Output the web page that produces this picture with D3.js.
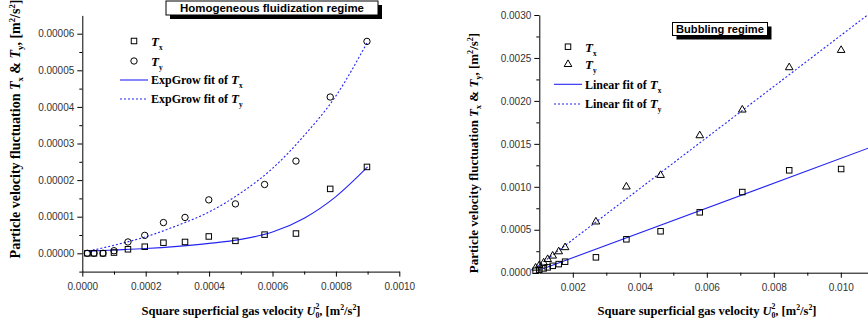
<!DOCTYPE html>
<html>
<head>
<meta charset="utf-8">
<script src="https://cdn.jsdelivr.net/npm/d3@7"></script>
<style>
  html, body { margin: 0; padding: 0; background: #fff; }
  svg { display: block; }
  .tick text { font-family: "Liberation Sans", Arial, sans-serif; fill: #333; }
</style>
</head>
<body>
<svg id="chart" width="868" height="325"></svg>
<script>
// ---------- Left panel: homogeneous fluidization regime ----------
const leftU2 = [0.0000159, 0.0000369, 0.0000653, 0.0001, 0.000144, 0.000197, 0.000256, 0.000324, 0.000399, 0.000483, 0.000575, 0.000674, 0.000782, 0.000898];
const leftTx = [0.0000000, 0.0000000, 0.0000000, 0.0000002, 0.0000011, 0.0000018, 0.0000029, 0.0000031, 0.0000046, 0.0000034, 0.0000051, 0.0000054, 0.0000176, 0.0000236];
const leftTy = [0.0000000, 0.0000000, 0.0000000, 0.0000007, 0.0000031, 0.0000049, 0.0000084, 0.0000098, 0.0000146, 0.0000135, 0.0000188, 0.0000252, 0.0000427, 0.0000579];
// ExpGrow fit curves
const leftFitU2 = [0.00002, 0.0001, 0.0002, 0.0003, 0.0004, 0.0005, 0.0006, 0.0007, 0.0008, 0.0009];
const leftFitTx = [0.0000006, 0.0000009, 0.0000013, 0.0000019, 0.0000027, 0.0000038, 0.0000058, 0.0000096, 0.0000155, 0.0000236];
const leftFitTy = [0.0000006, 0.0000022, 0.0000045, 0.0000076, 0.0000113, 0.0000165, 0.0000232, 0.0000322, 0.0000430, 0.0000578];
const leftYMajor = [0, 0.00001, 0.00002, 0.00003, 0.00004, 0.00005, 0.00006];
const leftYMinor = [-0.000005, 0.000005, 0.000015, 0.000025, 0.000035, 0.000045, 0.000055];
const leftXMajor = [0, 0.0002, 0.0004, 0.0006, 0.0008, 0.0010];
const leftXMinor = [0.0001, 0.0003, 0.0005, 0.0007, 0.0009];

// ---------- Right panel: bubbling regime ----------
const rightU2 = [0.00089, 0.00100, 0.00113, 0.00125, 0.00140, 0.00158, 0.00177, 0.00269, 0.00360, 0.00462, 0.00579, 0.00706, 0.00846, 0.01001];
const rightTx = [0.000023, 0.000035, 0.000050, 0.000062, 0.000080, 0.000100, 0.000128, 0.000179, 0.000389, 0.000482, 0.000703, 0.000939, 0.001192, 0.001207];
const rightTy = [0.000050, 0.000080, 0.000110, 0.000150, 0.000190, 0.000240, 0.000288, 0.000587, 0.000994, 0.001129, 0.001591, 0.001890, 0.002383, 0.002584];
// Linear fit lines (end points)
const rightFitTxU2 = [0.00107, 0.011];
const rightFitTx = [0.00004, 0.001476];
const rightFitTyU2 = [0.00094, 0.0108];
const rightFitTy = [0.00007, 0.0030];
const rightYMajor = [0, 0.0005, 0.0010, 0.0015, 0.0020, 0.0025, 0.0030];
const rightYMinor = [0.00025, 0.00075, 0.00125, 0.00175, 0.00225, 0.00275];
const rightXMajor = [0.002, 0.004, 0.006, 0.008, 0.010];
const rightXMinor = [0.003, 0.005, 0.007, 0.009];

const svg = d3.select("#chart");
const BLUE = "#2424f4";
const SERIF = '"Liberation Serif", "Times New Roman", serif';
const SANS = '"Liberation Sans", Arial, sans-serif';

function drawAxes(g, x, y, yMaj, yMin, yFmt, xMaj, xMin, xFmt, fs) {
  g.append("g").attr("transform", `translate(${x.range()[0]},0)`)
    .call(d3.axisLeft(y).tickValues(yMaj).tickFormat(d3.format(yFmt)).tickSize(5).tickSizeOuter(0).tickPadding(3));
  g.append("g").attr("transform", `translate(${x.range()[0]},0)`)
    .call(d3.axisLeft(y).tickValues(yMin).tickFormat("").tickSize(3).tickSizeOuter(0))
    .select(".domain").remove();
  g.append("g").attr("transform", `translate(0,${y.range()[0]})`)
    .call(d3.axisBottom(x).tickValues(xMaj).tickFormat(d3.format(xFmt)).tickSize(5).tickSizeOuter(0).tickPadding(6));
  g.append("g").attr("transform", `translate(0,${y.range()[0]})`)
    .call(d3.axisBottom(x).tickValues(xMin).tickFormat("").tickSize(3).tickSizeOuter(0))
    .select(".domain").remove();
  g.selectAll(".tick text").attr("font-size", fs).attr("font-family", SANS).attr("fill", "#333");
  g.selectAll(".domain, .tick line").attr("stroke", "#000").attr("stroke-width", 1);
}

function yTitle(g, cx, cy, fs) {
  const t = g.append("text").attr("transform", `translate(${cx},${cy}) rotate(-90)`)
    .attr("text-anchor", "middle").attr("font-family", SERIF).attr("font-weight", "bold").attr("font-size", fs);
  t.append("tspan").text("Particle velocity fluctuation ");
  t.append("tspan").attr("font-style", "italic").text("T");
  t.append("tspan").attr("font-size", fs * 0.62).attr("dy", 3).text("x");
  t.append("tspan").attr("dy", -3).text(" & ");
  t.append("tspan").attr("font-style", "italic").text("T");
  t.append("tspan").attr("font-size", fs * 0.62).attr("dy", 3).text("y");
  t.append("tspan").attr("dy", -3).text(", [m");
  t.append("tspan").attr("font-size", fs * 0.62).attr("dy", -5).text("2");
  t.append("tspan").attr("dy", 5).text("/s");
  t.append("tspan").attr("font-size", fs * 0.62).attr("dy", -5).text("2");
  t.append("tspan").attr("dy", 5).text("]");
}

function xTitle(g, cx, cy, fs) {
  const t = g.append("text").attr("x", cx).attr("y", cy)
    .attr("text-anchor", "middle").attr("font-family", SERIF).attr("font-weight", "bold").attr("font-size", fs);
  t.append("tspan").text("Square superficial gas velocity ");
  t.append("tspan").attr("font-style", "italic").text("U");
  t.append("tspan").attr("font-size", fs * 0.62).attr("dy", 3).text("0");
  t.append("tspan").attr("font-size", fs * 0.62).attr("dy", -9).attr("dx", -4).text("2");
  t.append("tspan").attr("dy", 6).text(", [m");
  t.append("tspan").attr("font-size", fs * 0.62).attr("dy", -5).text("2");
  t.append("tspan").attr("dy", 5).text("/s");
  t.append("tspan").attr("font-size", fs * 0.62).attr("dy", -5).text("2");
  t.append("tspan").attr("dy", 5).text("]");
}

function titleBox(g, x, y, w, h, label, fs, tl) {
  g.append("rect").attr("x", x + 4).attr("y", y + 4).attr("width", w).attr("height", h).attr("fill", "#000");
  g.append("rect").attr("x", x).attr("y", y).attr("width", w).attr("height", h).attr("fill", "#fff").attr("stroke", "#000").attr("stroke-width", 1);
  g.append("text").attr("x", x + w / 2).attr("y", y + h / 2 + fs * 0.36).attr("text-anchor", "middle")
    .attr("font-family", SANS).attr("font-weight", "bold").attr("font-size", fs)
    .attr("textLength", tl).attr("lengthAdjust", "spacingAndGlyphs").text(label);
}

function square(g, cx, cy, s) {
  g.append("rect").attr("x", cx - s / 2).attr("y", cy - s / 2).attr("width", s).attr("height", s)
    .attr("fill", "none").attr("stroke", "#000").attr("stroke-width", 1);
}
function circle(g, cx, cy, r) {
  g.append("circle").attr("cx", cx).attr("cy", cy).attr("r", r).attr("fill", "none").attr("stroke", "#000").attr("stroke-width", 1);
}
function triangle(g, cx, cy, s) {
  const p = d3.symbol().type(d3.symbolTriangle).size(s * s * 0.45)();
  g.append("path").attr("d", p).attr("transform", `translate(${cx},${cy})`)
    .attr("fill", "none").attr("stroke", "#000").attr("stroke-width", 1);
}

function legendText(g, x, y, pre, sub, fs) {
  const t = g.append("text").attr("x", x).attr("y", y).attr("font-family", SERIF).attr("font-weight", "bold").attr("font-size", fs);
  if (pre) t.append("tspan").text(pre);
  t.append("tspan").attr("font-style", "italic").attr("font-size", fs + 1).text("T");
  t.append("tspan").attr("font-size", fs * 0.6).attr("dy", 4).text(sub);
}

// ===== Left panel =====
{
  const g = svg.append("g");
  const x = d3.scaleLinear().domain([0, 0.001]).range([82.3, 399.3]);
  const y = d3.scaleLinear().domain([-0.000005, 0.000065]).range([271.6, 15.4]);
  drawAxes(g, x, y, leftYMajor, leftYMinor, ".5f", leftXMajor, leftXMinor, ".4f", 10);

  const line = d3.line().x((d, i) => x(leftFitU2[i])).y(d => y(d)).curve(d3.curveMonotoneX);
  g.append("path").attr("d", line(leftFitTx)).attr("fill", "none").attr("stroke", BLUE).attr("stroke-width", 1.1);
  g.append("path").attr("d", line(leftFitTy)).attr("fill", "none").attr("stroke", BLUE).attr("stroke-width", 1.1).attr("stroke-dasharray", "2,2");

  leftU2.forEach((u, i) => square(g, x(u), y(leftTx[i]), 5.5));
  leftU2.forEach((u, i) => circle(g, x(u), y(leftTy[i]), 3.2));

  // legend
  square(g, 134, 41, 5.5);
  legendText(g, 151, 46, "", "x", 12);
  circle(g, 134, 61, 3.2);
  legendText(g, 151, 66, "", "y", 12);
  g.append("line").attr("x1", 120).attr("x2", 148).attr("y1", 80).attr("y2", 80).attr("stroke", BLUE).attr("stroke-width", 1.1);
  legendText(g, 151, 84, "ExpGrow fit of ", "x", 12);
  g.append("line").attr("x1", 120).attr("x2", 148).attr("y1", 99).attr("y2", 99).attr("stroke", BLUE).attr("stroke-width", 1.1).attr("stroke-dasharray", "2,2");
  legendText(g, 151, 103, "ExpGrow fit of ", "y", 12);

  yTitle(g, 20, 129, 14);
  xTitle(g, 251, 315, 12.5);
  titleBox(g, 166, 1, 212, 14, "Homogeneous fluidization regime", 11.5, 184);
}

// ===== Right panel =====
{
  const g = svg.append("g");
  const x = d3.scaleLinear().domain([0.001, 0.011]).range([539.3, 874.3]);
  const y = d3.scaleLinear().domain([0, 0.003]).range([272.7, 15]);
  drawAxes(g, x, y, rightYMajor, rightYMinor, ".4f", rightXMajor, rightXMinor, ".3f", 10);

  const lineTx = d3.line().x((d, i) => x(rightFitTxU2[i])).y(d => y(d));
  const lineTy = d3.line().x((d, i) => x(rightFitTyU2[i])).y(d => y(d));
  g.append("path").attr("d", lineTx(rightFitTx)).attr("fill", "none").attr("stroke", BLUE).attr("stroke-width", 1.1);
  g.append("path").attr("d", lineTy(rightFitTy)).attr("fill", "none").attr("stroke", BLUE).attr("stroke-width", 1.1).attr("stroke-dasharray", "2,2");

  rightU2.forEach((u, i) => square(g, x(u), y(rightTx[i]), 5.5));
  rightU2.forEach((u, i) => triangle(g, x(u), y(rightTy[i]) - 0.5, 7.5));

  // legend
  square(g, 568, 46.7, 5.5);
  legendText(g, 585, 51.5, "", "x", 12);
  triangle(g, 568, 64.3, 7.5);
  legendText(g, 585, 69, "", "y", 12);
  g.append("line").attr("x1", 554).attr("x2", 582).attr("y1", 84.3).attr("y2", 84.3).attr("stroke", BLUE).attr("stroke-width", 1.1);
  legendText(g, 585, 88.5, "Linear fit of ", "x", 12);
  g.append("line").attr("x1", 554).attr("x2", 582).attr("y1", 104).attr("y2", 104).attr("stroke", BLUE).attr("stroke-width", 1.1).attr("stroke-dasharray", "2,2");
  legendText(g, 585, 108, "Linear fit of ", "y", 12);

  yTitle(g, 478, 153, 13);
  xTitle(g, 707, 315, 12.5);
  titleBox(g, 672.5, 22.5, 95, 13, "Bubbling regime", 11.5, 88);
}
</script>
</body>
</html>
